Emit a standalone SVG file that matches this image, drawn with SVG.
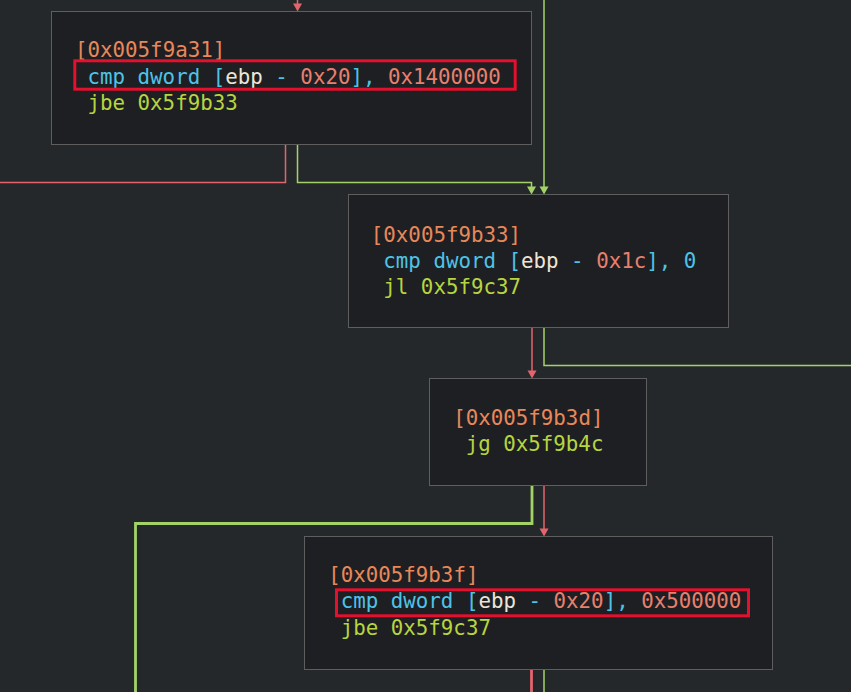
<svg xmlns="http://www.w3.org/2000/svg" width="851" height="692" viewBox="0 0 851 692">
<style>
.bg{fill:#25282b}
.node{fill:#1d1f23;stroke:#5e5e5e;stroke-width:1}
.hl{fill:none;stroke:#e3102e;stroke-width:3}
text{font-family:"DejaVu Sans Mono","Liberation Mono",monospace;font-size:20.8px;white-space:pre}
.addr{fill:#e8885a}
.kw{fill:#4ec3e6}
.reg{fill:#ede5d6}
.num{fill:#e8806e}
.jmp{fill:#b7d53f}
.er{fill:none;stroke:#e3646d;stroke-width:1.5}
.eg{fill:none;stroke:#a3d367;stroke-width:1.5}
.thick{stroke-width:2.8}
.ahr{fill:#e3646d}
.ahg{fill:#a3d367}
</style>
<rect class="bg" x="0" y="0" width="851" height="692"/>
<g id="connectors">
  <path class="er" d="M297.5,0 V5"/>
  <polygon class="ahr" points="293,3.5 302,3.5 297.5,11.5"/>
  <path class="er" d="M285.5,144.5 V182.5 H0"/>
  <path class="eg" d="M297.5,144.5 V182.5 H531.5 V188"/>
  <polygon class="ahg" points="527,186.5 536,186.5 531.5,194.5"/>
  <path class="eg" d="M544,0 V188"/>
  <polygon class="ahg" points="539.5,186.5 548.5,186.5 544,194.5"/>
  <path class="er" d="M532,327.5 V372"/>
  <polygon class="ahr" points="527.5,370.5 536.5,370.5 532,378.5"/>
  <path class="eg" d="M544,327.5 V365.5 H851"/>
  <path class="eg thick" d="M532,485.5 V523.5 H135.5 V692"/>
  <path class="er" d="M544,485.5 V530"/>
  <polygon class="ahr" points="539.5,528.5 548.5,528.5 544,536.5"/>
  <path class="er thick" d="M531.5,669.5 V692"/>
  <path class="eg" d="M544,669.5 V692"/>
</g>
<g id="node-0x005f9a31">
  <rect class="node" x="51.5" y="11.5" width="480" height="133"/>
  <text x="75" y="56.5" class="addr">[0x005f9a31]</text>
  <text x="87.5" y="83.5"><tspan class="kw">cmp dword [</tspan><tspan class="reg">ebp</tspan><tspan class="kw"> - </tspan><tspan class="num">0x20</tspan><tspan class="kw">], </tspan><tspan class="num">0x1400000</tspan></text>
  <text x="87.5" y="110" class="jmp">jbe 0x5f9b33</text>
  <rect class="hl" x="74.8" y="60.8" width="440.4" height="28.4"/>
</g>
<g id="node-0x005f9b33">
  <rect class="node" x="348.5" y="194.5" width="380" height="133"/>
  <text x="370.8" y="241.5" class="addr">[0x005f9b33]</text>
  <text x="383.3" y="267.5"><tspan class="kw">cmp dword [</tspan><tspan class="reg">ebp</tspan><tspan class="kw"> - </tspan><tspan class="num">0x1c</tspan><tspan class="kw">], 0</tspan></text>
  <text x="383.3" y="294" class="jmp">jl 0x5f9c37</text>
</g>
<g id="node-0x005f9b3d">
  <rect class="node" x="429.5" y="378.5" width="217" height="107"/>
  <text x="453.2" y="424.5" class="addr">[0x005f9b3d]</text>
  <text x="465.7" y="451" class="jmp">jg 0x5f9b4c</text>
</g>
<g id="node-0x005f9b3f">
  <rect class="node" x="304.5" y="536.5" width="468" height="133"/>
  <text x="328.2" y="581.5" class="addr">[0x005f9b3f]</text>
  <text x="340.7" y="608"><tspan class="kw">cmp dword [</tspan><tspan class="reg">ebp</tspan><tspan class="kw"> - </tspan><tspan class="num">0x20</tspan><tspan class="kw">], </tspan><tspan class="num">0x500000</tspan></text>
  <text x="340.7" y="634.5" class="jmp">jbe 0x5f9c37</text>
  <rect class="hl" x="336.5" y="589.8" width="412" height="26"/>
</g>
</svg>
